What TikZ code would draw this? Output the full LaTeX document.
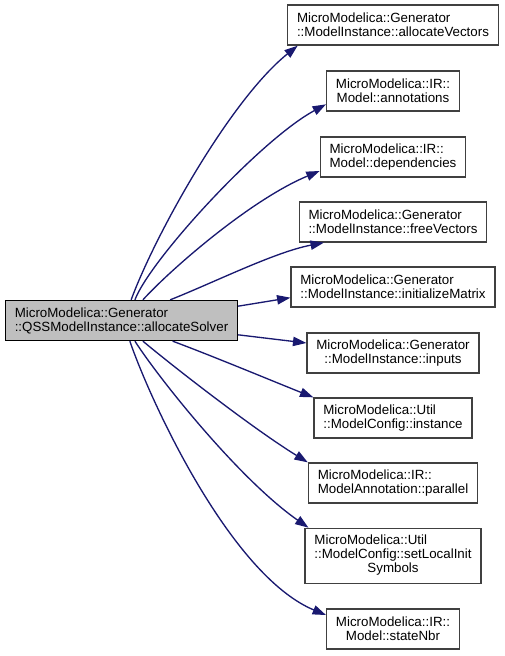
\documentclass[tikz,border=0pt]{standalone}
\usepackage{fontspec}
\setmainfont{Liberation Sans}
\usetikzlibrary{arrows.meta}
\definecolor{callblue}{HTML}{191970}
\definecolor{boxgray}{HTML}{404040}
\tikzset{
	fn/.style={draw=boxgray, line width=1pt, fill=white, align=left, inner xsep=7pt, inner ysep=5pt,
		minimum height=30pt, font=\fontsize{10pt}{10.5pt}\selectfont},
	fnc/.style={fn, align=center},
	fnsrc/.style={fn, draw=black, fill=black!25},
	call/.style={draw=callblue, line width=1pt, -{Triangle[length=10pt,width=7pt]}}
}
\begin{document}
\begin{tikzpicture}[x=0.75pt,y=-0.75pt]
	\useasboundingbox (0,0) rectangle (505,656);
	\node[fnsrc] (src) at (121.5,320.5) {MicroModelica::Generator\\::QSSModelInstance::allocateSolver};
	\node[fn] (allocvec) at (393,25) {MicroModelica::Generator\\::ModelInstance::allocateVectors};
	\node[fnc] (annot) at (393,91) {MicroModelica::IR::\\Model::annotations};
	\node[fn] (deps) at (393,157) {MicroModelica::IR::\\Model::dependencies};
	\node[fn] (freevec) at (393,222) {MicroModelica::Generator\\::ModelInstance::freeVectors};
	\node[fn] (initmat) at (393,287) {MicroModelica::Generator\\::ModelInstance::initializeMatrix};
	\node[fnc] (inputs) at (393,353) {MicroModelica::Generator\\::ModelInstance::inputs};
	\node[fn] (inst) at (393,418) {MicroModelica::Util\\::ModelConfig::instance};
	\node[fn] (parallel) at (393,483) {MicroModelica::IR::\\ModelAnnotation::parallel};
	\node[fn] (setlocal) at (393,556) {\begin{tabular}{@{}l@{}}MicroModelica::Util\\::ModelConfig::setLocalInit\\\multicolumn{1}{@{}c@{}}{Symbols}\end{tabular}};
	\node[fnc] (statenbr) at (393,629) {MicroModelica::IR::\\Model::stateNbr};
	% calls, top side of src first
	\draw[call] (src.65) .. controls (155,235) and (230,100) .. ([xshift=8pt]allocvec.south west);
	\draw[call] (src.57) .. controls (150,260) and (260,140) .. ([yshift=-10pt]annot.west);
	\draw[call] (src.44) .. controls (170,270) and (250,200) .. ([yshift=-10.5pt]deps.west);
	\draw[call] (src.23) .. controls (215,282) and (275,252) .. ([xshift=19pt]freevec.south west);
	\draw[call] (src.7.5) -- ([yshift=-8pt]initmat.west);
	\draw[call] (src.353.5) -- ([yshift=7.5pt]inputs.west);
	\draw[call] (src.338) .. controls (215,357) and (270,380) .. (inst.north west);
	\draw[call] (src.316) .. controls (175,368) and (255,430) .. (parallel.north west);
	\draw[call] (src.303) .. controls (160,380) and (240,480) .. ([xshift=3pt]setlocal.north west);
	\draw[call] (src.292.5) .. controls (150,400) and (230,575) .. ([yshift=-5pt]statenbr.north west);
\end{tikzpicture}
\end{document}
